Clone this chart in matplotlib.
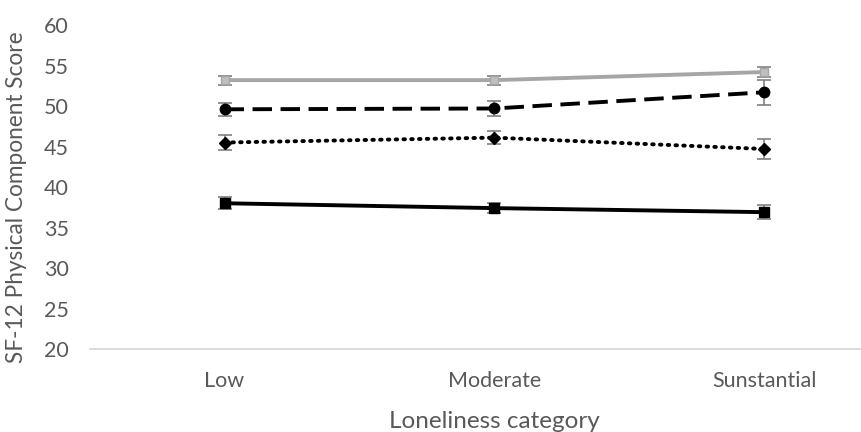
import numpy as np
import matplotlib
matplotlib.use("Agg")
import matplotlib.pyplot as plt

categories = ["Low", "Moderate", "Sunstantial"]

# four groups (mean, error)
grey_mean = [53.2, 53.2, 54.2]
grey_err = [0.55, 0.55, 0.65]
dash_mean = [49.6, 49.7, 51.7]
dash_err = [0.82, 0.97, 1.57]
dot_mean = [45.5, 46.1, 44.7]
dot_err = [0.87, 0.84, 1.24]
solid_mean = [38.0, 37.4, 36.9]
solid_err = [0.74, 0.66, 0.87]

yticks = list(range(20, 61, 5))

plt.rcParams['font.family'] = ['Lato', 'DejaVu Sans']
txt = '#595959'

fig = plt.figure(figsize=(8.62, 4.32), dpi=100)
ax = fig.add_axes([0.104, 0.192, 0.939, 0.75])

x = np.arange(len(categories))
ecol = '#808080'

ax.errorbar(x, grey_mean, yerr=grey_err, color='#a6a6a6', lw=2.8,
            marker='s', ms=6, mfc='#bfbfbf', mec='#a6a6a6',
            ecolor=ecol, elinewidth=1.2, capsize=5, capthick=1.2, zorder=3)
ax.errorbar(x, dash_mean, yerr=dash_err, color='black', lw=2.8, ls=(0, (5, 2.2)),
            marker='o', ms=7.5, ecolor=ecol, elinewidth=1.2, capsize=5,
            capthick=1.2, zorder=3)
ax.errorbar(x, dot_mean, yerr=dot_err, color='black', lw=2.8, ls=(0, (0.4, 1.6)),
            dash_capstyle='round', marker='D', ms=6, ecolor=ecol, elinewidth=1.2,
            capsize=5, capthick=1.2, zorder=3)
ax.errorbar(x, solid_mean, yerr=solid_err, color='black', lw=2.8,
            marker='s', ms=7, ecolor=ecol, elinewidth=1.2, capsize=5,
            capthick=1.2, zorder=3)

ax.set_xlim(-0.5, 2.5)
ax.set_ylim(20, 60)
ax.set_yticks(yticks)
ax.set_xticks(x)
ax.set_xticklabels(categories)

for s in ['top', 'right', 'left']:
    ax.spines[s].set_visible(False)
ax.spines['bottom'].set_color('#d9d9d9')
ax.spines['bottom'].set_linewidth(1.3)
ax.tick_params(axis='both', length=0, labelsize=15.5, colors=txt)
ax.tick_params(axis='x', pad=16)
ax.tick_params(axis='y', pad=24)
for t in ax.get_yticklabels():
    t.set_horizontalalignment('center')

ax.set_ylabel("SF-12 Physical Component Score", fontsize=16.3, color=txt)
ax.yaxis.set_label_coords(-0.077, 0.47)
ax.set_xlabel("Loneliness category", fontsize=17.5, color=txt, labelpad=14)

fig.savefig("out.png", dpi=100)
